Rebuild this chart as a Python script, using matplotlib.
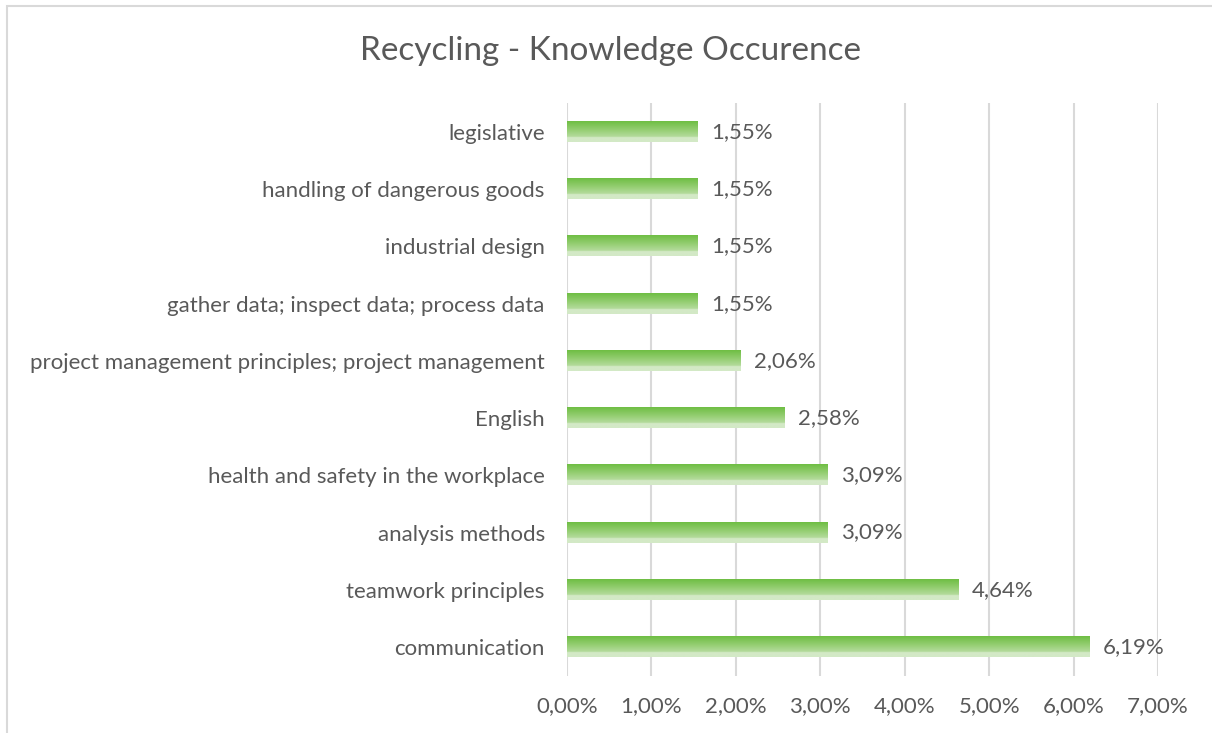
import numpy as np
import matplotlib.pyplot as plt
from matplotlib.patches import Rectangle
from matplotlib.colors import LinearSegmentedColormap
from matplotlib.ticker import FuncFormatter

plt.rcParams['font.family'] = ['Lato', 'DejaVu Sans']

# data (bottom to top, as drawn)
categories = ['communication', 'teamwork principles', 'analysis methods',
              'health and safety in the workplace', 'English',
              'project management principles; project management',
              'gather data; inspect data; process data', 'industrial design',
              'handling of dangerous goods', 'legislative']
values = [6.19, 4.64, 3.09, 3.09, 2.58, 2.06, 1.55, 1.55, 1.55, 1.55]
x_ticks = [0, 1, 2, 3, 4, 5, 6, 7]

text_col = '#595959'
grid_col = '#D9D9D9'
fs = 16

fig = plt.figure(figsize=(12.12, 7.33), dpi=100)
ax = fig.add_axes([567 / 1212, 1 - 675.6 / 733, (1158 - 567) / 1212, (675.6 - 103.4) / 733])

# chart border (like the Excel chart area)
fig.patches.append(Rectangle((6.5 / 1212, -0.05), 1.1, 1 - 6 / 733 + 0.05,
                             transform=fig.transFigure, fill=False,
                             edgecolor=grid_col, linewidth=1.5))

# vertical gradient, dark green at top of bar to pale at bottom
grad = LinearSegmentedColormap.from_list('g', [
    (0.0, '#D3E9C6'), (0.22, '#D3E9C6'), (0.26, '#B4DB9C'),
    (0.6, '#93CD70'), (1.0, '#6EBE43')])
grad_img = np.linspace(0, 1, 256).reshape(-1, 1)

h = 0.35
y = np.arange(len(categories))
bars = ax.barh(y, values, height=h, color='none', zorder=3)
for b, v in zip(bars, values):
    x0, y0 = b.get_x(), b.get_y()
    ax.imshow(grad_img, cmap=grad, origin='lower', aspect='auto',
              extent=(x0, x0 + b.get_width(), y0, y0 + b.get_height()),
              zorder=3, interpolation='bilinear')
    ax.text(v + 0.16, b.get_y() + b.get_height() / 2,
            f'{v:.2f}%'.replace('.', ','), va='center', ha='left',
            fontsize=fs, color=text_col)

ax.set_xlim(0, 7)
ax.set_ylim(-0.5, len(categories) - 0.5)
ax.set_xticks(x_ticks)
ax.xaxis.set_major_formatter(FuncFormatter(lambda v, p: f'{v:.2f}%'.replace('.', ',')))
ax.set_yticks(y)
ax.set_yticklabels(categories)
ax.tick_params(axis='both', length=0, labelsize=fs, labelcolor=text_col)
ax.tick_params(axis='y', pad=16)
ax.tick_params(axis='x', pad=15)
ax.grid(axis='x', color=grid_col, linewidth=1.5, zorder=0)
ax.set_axisbelow(True)
for s in ax.spines.values():
    s.set_visible(False)

fig.text(611 / 1212, 1 - 51 / 733, 'Recycling - Knowledge Occurence',
         ha='center', va='center', fontsize=24, color=text_col)

fig.savefig('out.png', dpi=100)
